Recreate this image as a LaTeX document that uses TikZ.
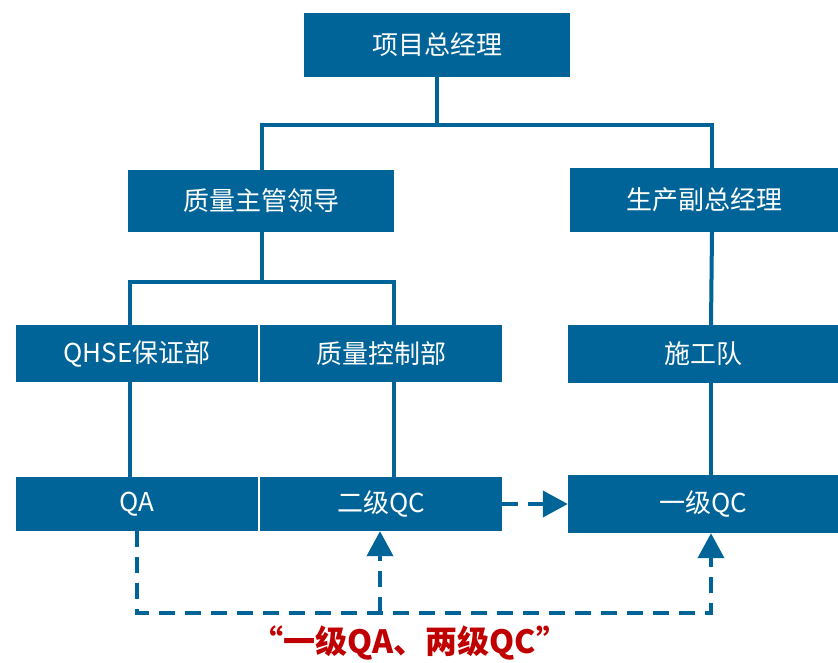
\documentclass[tikz,border=0pt]{standalone}
\usepackage{fontspec}
\setmainfont{Noto Sans CJK SC}
\usetikzlibrary{arrows.meta}
\definecolor{boxblue}{RGB}{0,100,152}
\definecolor{capred}{RGB}{192,0,0}
\tikzset{
  orgbox/.style={fill=boxblue, draw=none, text=white, inner sep=0pt,
    font=\fontsize{26}{30}\selectfont},
  link/.style={draw=boxblue, line width=4pt},
  dlink/.style={draw=boxblue, line width=4pt, dash pattern=on 16pt off 10pt},
  tip/.style={-{Triangle[length=25pt,width=26pt]}}
}
\begin{document}
\begin{tikzpicture}[x=1pt,y=-1pt]
\useasboundingbox (0,0) rectangle (838,663);
% boxes
\node[orgbox, minimum width=266pt, minimum height=64pt] (top) at (437,45) {项目总经理};
\node[orgbox, minimum width=266pt, minimum height=62pt] (zl) at (261,201) {质量主管领导};
\node[orgbox, minimum width=268pt, minimum height=64pt] (sc) at (704,200) {生产副总经理};
\node[orgbox, minimum width=242pt, minimum height=57pt] (qhse) at (137,353.5) {QHSE保证部};
\node[orgbox, minimum width=242pt, minimum height=57pt] (zk) at (381,353.5) {质量控制部};
\node[orgbox, minimum width=270pt, minimum height=58pt] (sgd) at (703,354) {施工队};
\node[orgbox, minimum width=242pt, minimum height=54pt] (qa) at (137,504) {QA};
\node[orgbox, minimum width=242pt, minimum height=54pt] (ejqc) at (381,504) {二级QC};
\node[orgbox, minimum width=270pt, minimum height=58pt] (yjqc) at (703,504) {一级QC};
% bus coordinates
\coordinate (bus1) at (437,125);
\coordinate (bus2) at (262,282);
\coordinate (dbus) at (380,613);
% solid connectors
\draw[link] (top.south) -- (bus1);
\draw[link] ([xshift=1pt]zl.north) |- (bus1) -| ([xshift=8pt]sc.north);
\draw[link] ([xshift=1pt]zl.south) -- (bus2);
\draw[link] ([xshift=-7pt]qhse.north) |- (bus2) -| ([xshift=13pt]zk.north);
\draw[link] ([xshift=-7pt]qhse.south) -- ([xshift=-7pt]qa.north);
\draw[link] ([xshift=13pt]zk.south) -- ([xshift=13pt]ejqc.north);
\draw[link] ([xshift=8pt]sc.south) -- ([xshift=8pt]sgd.north);
\draw[link] ([xshift=8pt]sgd.south) -- ([xshift=8pt]yjqc.north);
% dashed connectors
\draw[dlink, tip] (ejqc.east) -- (yjqc.west);
\draw[dlink, tip] (qa.south) |- (dbus) -| ([xshift=8pt]yjqc.south);
\draw[dlink, tip] (dbus) -- ([xshift=-1pt]ejqc.south);
% caption
\node[text=capred, font=\fontsize{32}{36}\selectfont\bfseries] (cap) at (410,643) {“一级QA、两级QC”};
\end{tikzpicture}
\end{document}
